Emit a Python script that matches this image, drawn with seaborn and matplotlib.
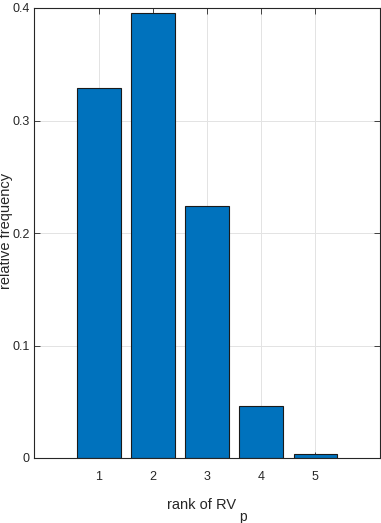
import numpy as np
import pandas as pd
import matplotlib
matplotlib.use("Agg")
import matplotlib.pyplot as plt
import seaborn as sns

# data
ranks = [1, 2, 3, 4, 5]
rel_freq = [0.329, 0.396, 0.224, 0.046, 0.004]

sns.set_style("white")
plt.rcParams['font.family'] = ['Liberation Sans', 'DejaVu Sans']

df = pd.DataFrame({'rank': ranks, 'freq': rel_freq})

fig = plt.figure(figsize=(3.81, 5.23), dpi=100)
ax = fig.add_axes([34 / 381, 1 - 458 / 523, 346 / 381, 450 / 523])

ax.set_axisbelow(True)
ax.grid(True, color='#e3e3e3', linewidth=0.7)

sns.barplot(data=df, x='rank', y='freq', native_scale=True, width=0.8,
            color='#0072BD', saturation=1, edgecolor='#1a1a1a', linewidth=0.8, ax=ax)

ax.set_xlim(-0.2, 6.2)
ax.set_ylim(0, 0.4)
ax.set_xticks(ranks)
ax.set_xticklabels([str(r) for r in ranks])
ax.set_yticks([0, 0.1, 0.2, 0.3, 0.4])
ax.set_yticklabels(['0', '0.1', '0.2', '0.3', '0.4'])

for s in ax.spines.values():
    s.set_visible(True)
    s.set_color('#262626')
    s.set_linewidth(0.8)

ax.tick_params(direction='in', length=4, width=0.6, color='#262626',
               labelsize=9, labelcolor='#262626',
               top=True, right=True, bottom=True, left=True)
ax.tick_params(axis='x', pad=9)
ax.tick_params(axis='y', pad=3)

# x label with a full-size, lowered "p" like the original
ax.set_xlabel('rank of RV', fontsize=10.5, color='#262626')
ax.xaxis.set_label_coords(0.484, -0.088)
ax.annotate('p', xy=(1, 0), xycoords=ax.xaxis.label, xytext=(2, 1.5),
            textcoords='offset points', ha='left', va='top',
            fontsize=10, color='#262626')

ax.set_ylabel('relative frequency', fontsize=10.5, color='#262626')
ax.yaxis.set_label_coords(-0.06, 0.504)

fig.savefig('out.png', dpi=100)
